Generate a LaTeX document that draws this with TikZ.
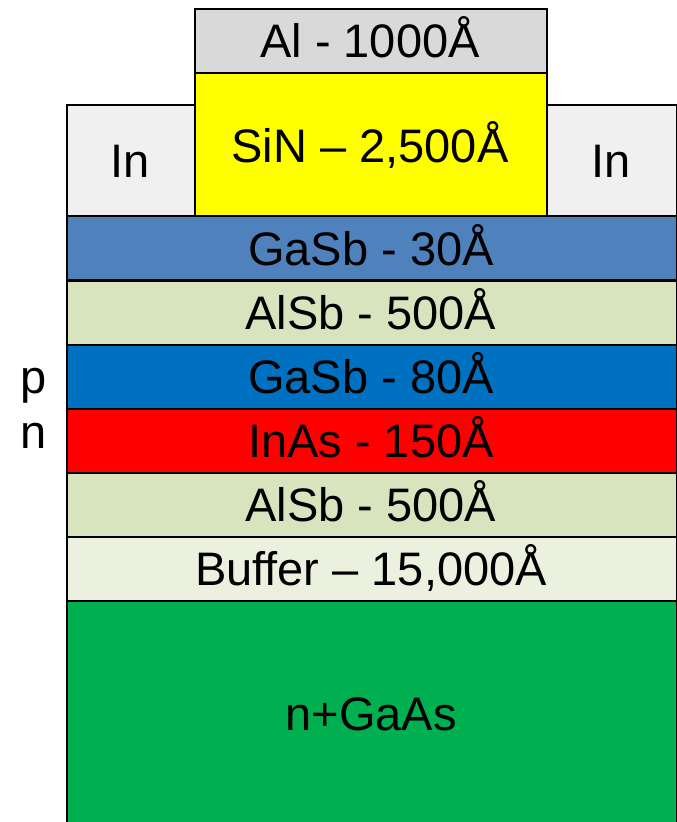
\documentclass[tikz,border=0pt]{standalone}
\usepackage{fontspec}
\setmainfont{Liberation Sans}
\definecolor{cAl}{HTML}{D9D9D9}
\definecolor{cSiN}{HTML}{FFFF00}
\definecolor{cIn}{HTML}{F0F0F0}
\definecolor{cGaSbA}{HTML}{4F81BD}
\definecolor{cAlSb}{HTML}{D7E4BD}
\definecolor{cGaSbB}{HTML}{0070C0}
\definecolor{cInAs}{HTML}{FF0000}
\definecolor{cBuf}{HTML}{EBF1DE}
\definecolor{cGaAs}{HTML}{00B050}
\begin{document}
\begin{tikzpicture}[x=1pt,y=-1pt,
  box/.style={draw=black, line width=2pt, rectangle, inner sep=0pt, anchor=north west},
  lay/.style={box, minimum width=610pt, minimum height=64pt},
  lbl/.style={font=\fontsize{47}{56}\selectfont, anchor=base, inner sep=0pt}]
\useasboundingbox (0,0) rectangle (677,822);
% substrate first (extends beyond page bottom)
\node[box, fill=cGaAs, minimum width=610pt, minimum height=250pt] (gaas) at (66,600) {};
\node[lay, fill=cBuf] (buf) at (66,536) {};
\node[lay, fill=cAlSb] (alsb2) at (66,472) {};
\node[lay, fill=cInAs] (inas) at (66,408) {};
\node[lay, fill=cGaSbB] (gasb2) at (66,344) {};
\node[lay, fill=cAlSb] (alsb1) at (66,280) {};
\node[lay, fill=cGaSbA] (gasb1) at (66,215) {};
\node[box, fill=cIn, minimum width=128pt, minimum height=111pt] (inl) at (66,104) {};
\node[box, fill=cIn, minimum width=130pt, minimum height=111pt] (inr) at (546,104) {};
\node[box, fill=cSiN, minimum width=352pt, minimum height=143pt] (sin) at (194,72) {};
\node[box, fill=cAl, minimum width=352pt, minimum height=64pt] (al) at (194,8) {};
% labels
\node[lbl] (tal) at (370,57) {Al - 1000Å};
\node[lbl] (tsin) at (370,162) {SiN – 2,500Å};
\node[lbl] (tinl) at (130,177) {In};
\node[lbl] (tinr) at (611,177) {In};
\node[lbl] (tgasb1) at (371,265) {GaSb - 30Å};
\node[lbl] (talsb1) at (371,329) {AlSb - 500Å};
\node[lbl] (tgasb2) at (371,393) {GaSb - 80Å};
\node[lbl] (tinas) at (371,457) {InAs - 150Å};
\node[lbl] (talsb2) at (371,521) {AlSb - 500Å};
\node[lbl] (tbuf) at (371,585) {Buffer – 15,000Å};
\node[lbl] (tgaas) at (371,730) {n+GaAs};
\node[lbl] (tp) at (34,393) {p};
\node[lbl] (tn) at (34,448) {n};
\end{tikzpicture}
\end{document}
